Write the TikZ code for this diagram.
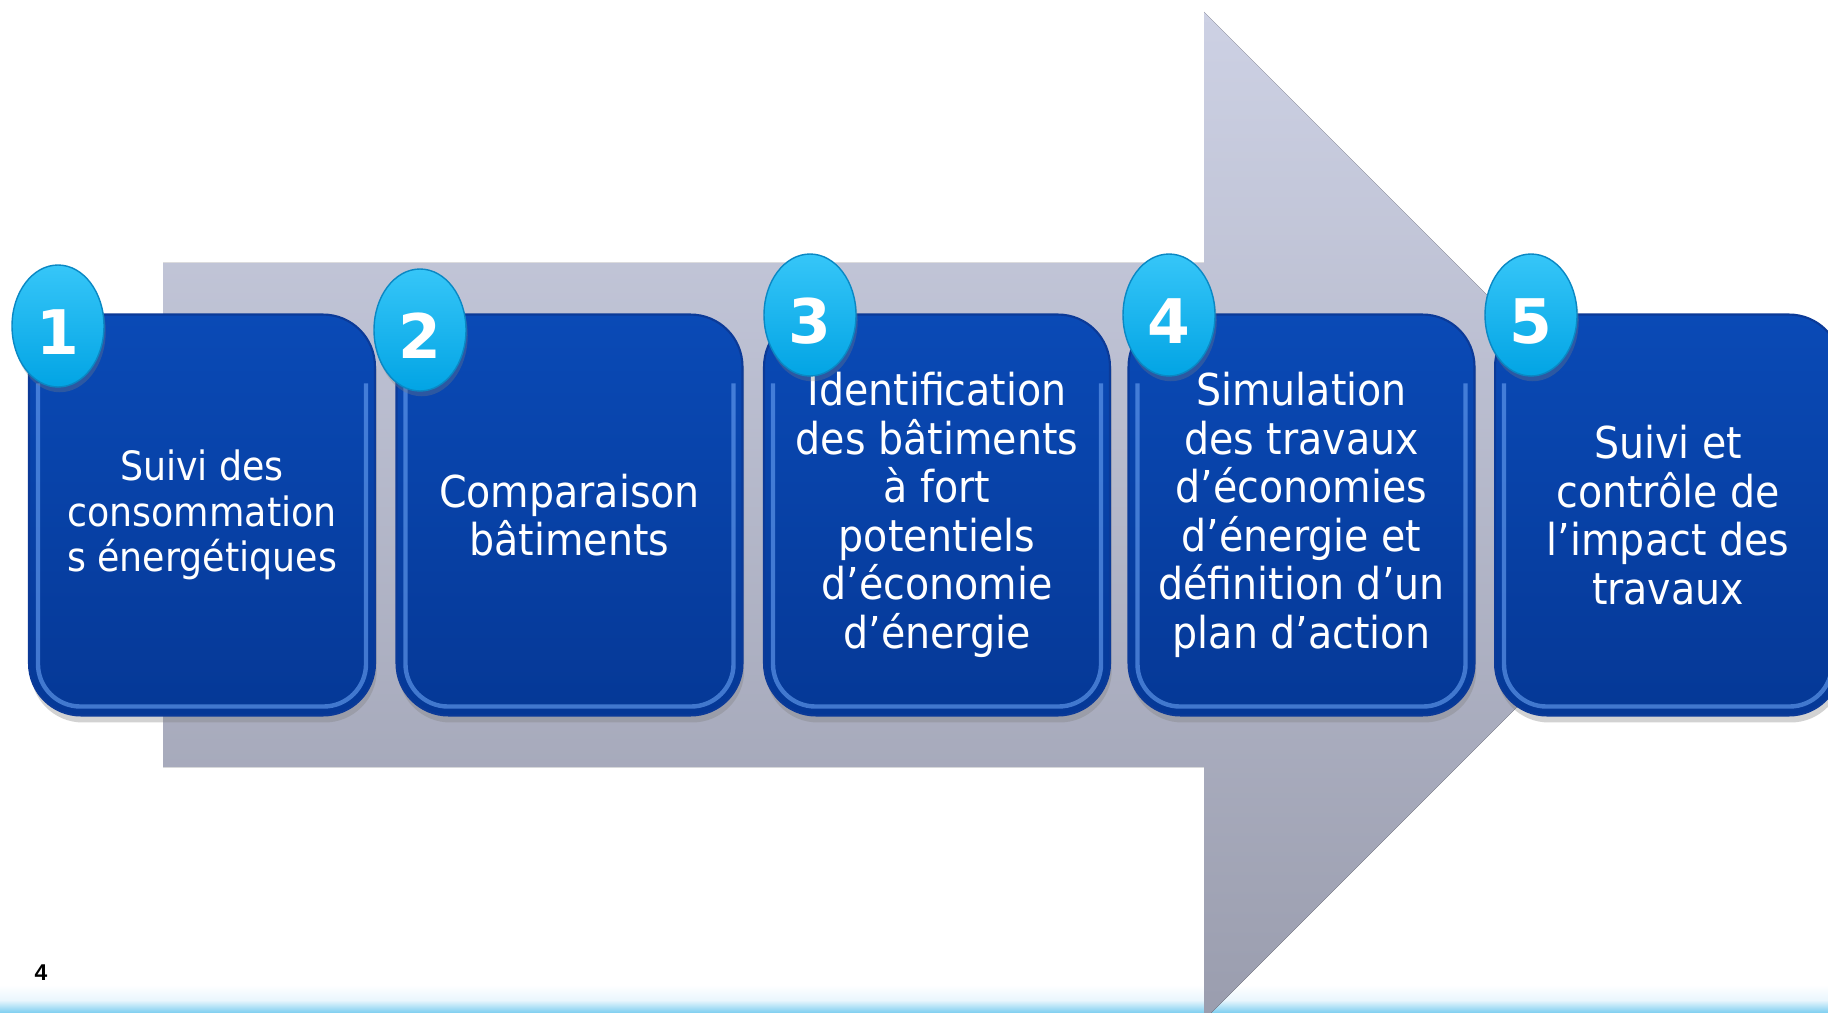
\documentclass[tikz,border=0pt]{standalone}
\usepackage{fontspec}
\setmainfont{DejaVu Sans}[FakeStretch=0.9]
\newfontfamily\numfont{DejaVu Sans}
\newfontfamily\pgfont{Liberation Sans}
\usetikzlibrary{shapes.geometric,shadows}
\definecolor{boxtop}{HTML}{0A4AB6}
\definecolor{boxbot}{HTML}{053896}
\definecolor{boxedge}{HTML}{0B3A98}
\definecolor{boxhi}{HTML}{6AA2F4}
\definecolor{balltop}{HTML}{36C6F8}
\definecolor{ballbot}{HTML}{02A4E4}
\definecolor{balledge}{HTML}{0A88C4}
\definecolor{arrtop}{HTML}{CDD1E4}
\definecolor{arrbot}{HTML}{9A9DAE}
\definecolor{barblue}{HTML}{7CCEF0}
\definecolor{barpale}{HTML}{EAF6FD}
\newcommand\ballnum[1]{\raisebox{-16pt}[0pt][0pt]{#1}}
\begin{document}
\begin{tikzpicture}[x=0.02cm,y=-0.02cm,
  stepbox/.style={rectangle, rounded corners=1.04cm, minimum width=6.92cm,
    minimum height=8.02cm, top color=boxtop, bottom color=boxbot,
    draw=boxedge, line width=1.2pt, text=white, align=center,
    font=\fontsize{25}{27.6}\selectfont, inner sep=0pt,
    drop shadow={opacity=0.35, shadow xshift=1pt, shadow yshift=-4pt}},
  numball/.style={ellipse, minimum width=1.84cm, minimum height=2.44cm,
    inner sep=0pt, top color=balltop, bottom color=ballbot, draw=balledge,
    line width=0.8pt, text=white,
    font=\numfont\bfseries\fontsize{35}{35}\selectfont,
    drop shadow={opacity=0.3, shadow xshift=1pt, shadow yshift=-3pt}},
  bevel/.style={draw=boxhi, line width=2.5pt, opacity=0.6, rounded corners=0.85cm}
]
\useasboundingbox (0,0) rectangle (1828,1013);
\clip (0,0) rectangle (1828,1013);
\fill[white] (0,0) rectangle (1828,1013);

% bottom bar
\fill[top color=white, bottom color=barpale] (0,985) rectangle (1828,1000);
\fill[top color=barpale, bottom color=barblue] (0,1000) rectangle (1828,1013);

% big grey arrow
\fill[top color=arrtop, bottom color=arrbot]
  (163,263) -- (1204,263) -- (1204,12) -- (1708,516) -- (1204,1020)
  -- (1204,767) -- (163,767) -- cycle;

% step boxes
\node[stepbox, font=\fontsize{23}{26}\selectfont] (b1) at (202,515) {Suivi des\\consommation\\s énergétiques};
\node[stepbox] (b2) at (569.5,515) {Comparaison\\bâtiments};
\node[stepbox] (b3) at (937,515) {Identification\\des bâtiments\\à fort\\potentiels\\d’économie\\d’énergie};
\node[stepbox] (b4) at (1301.5,515) {Simulation\\des travaux\\d’économies\\d’énergie et\\définition d’un\\plan d’action};
\node[stepbox] (b5) at (1668,515) {Suivi et\\contrôle de\\l’impact des\\travaux};

\foreach \b in {b1,b2,b3,b4,b5}{
  \draw[bevel] ([shift={(10,70)}]\b.north west) -- ([shift={(10,-10)}]\b.south west)
    -- ([shift={(-10,-10)}]\b.south east) -- ([shift={(-10,70)}]\b.north east);
}

% number balls
\node[numball] (n1) at (58,326) {\ballnum{1}};
\node[numball] (n2) at (420,330) {\ballnum{2}};
\node[numball] (n3) at (810,315) {\ballnum{3}};
\node[numball] (n4) at (1169,315) {\ballnum{4}};
\node[numball] (n5) at (1531,315) {\ballnum{5}};

% page number
\node[font=\pgfont\bfseries\fontsize{13}{13}\selectfont] (pg) at (41,973) {4};
\end{tikzpicture}
\end{document}
